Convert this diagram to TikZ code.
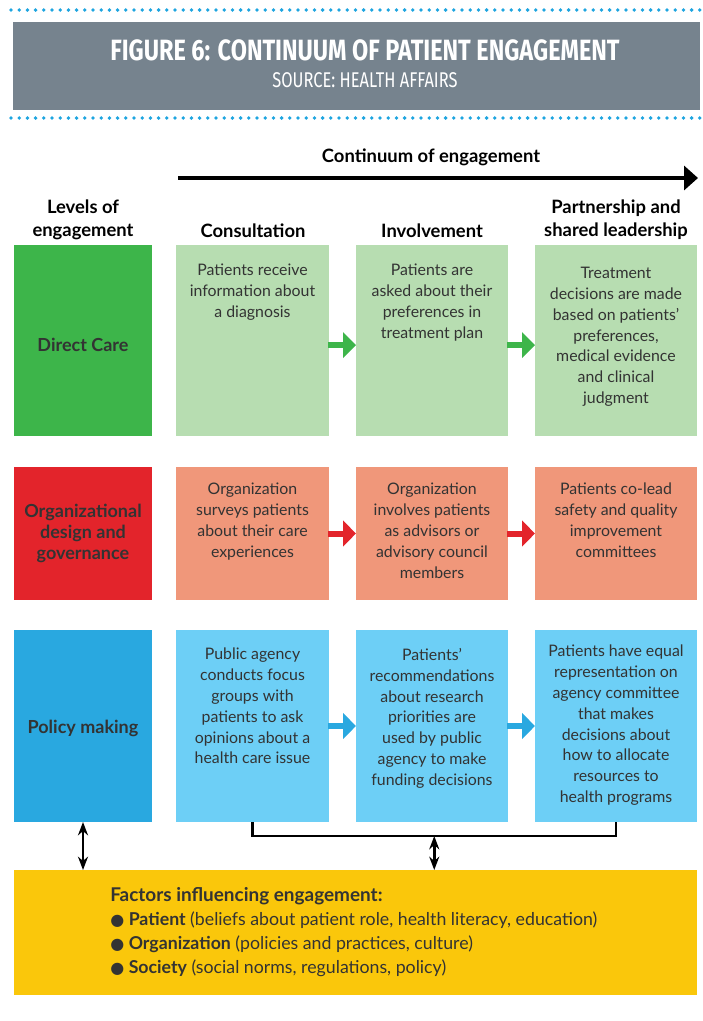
\documentclass[tikz,border=0pt]{standalone}
\usepackage{fontspec}
\setmainfont{Lato}
\newfontfamily\headfont[FakeStretch=0.8]{Fira Sans}
\newfontfamily\srcfont[FakeStretch=0.77]{Fira Sans}
\newfontfamily\djv{DejaVu Sans}
\usetikzlibrary{arrows.meta,calc}
\definecolor{dgreen}{HTML}{3DB54A}
\definecolor{lgreen}{HTML}{B7DDB1}
\definecolor{dred}{HTML}{E3242B}
\definecolor{lred}{HTML}{F0977A}
\definecolor{dblue}{HTML}{29A8E0}
\definecolor{lblue}{HTML}{6DCFF6}
\definecolor{yel}{HTML}{FAC70B}
\definecolor{hgray}{HTML}{76838E}
\definecolor{dots}{HTML}{1EA5E0}
\definecolor{ink}{HTML}{333333}
\newcommand\bul{{\djv\fontsize{12}{12}\selectfont ●}}
\tikzset{
  box/.style={anchor=north west, inner sep=0, outer sep=0},
  bodytxt/.style={anchor=north, align=center, text=ink, inner sep=0,
     font=\fontsize{11.9}{15.6}\selectfont},
  hdr/.style={align=center, text=black, inner sep=0,
     font=\bfseries\fontsize{13.8}{17.25}\selectfont},
  levtxt/.style={align=center, text=ink, inner sep=0,
     font=\bfseries\fontsize{13.5}{15.75}\selectfont},
  flow/.style={line width=4.5pt, -{Triangle[length=9.75pt,width=19pt]}, shorten <=-0.5pt},
  dbl/.style={line width=1.9pt, {Stealth[length=10pt,width=7.5pt]}-{Stealth[length=10pt,width=7.5pt]}},
}
\begin{document}
\begin{tikzpicture}[x=0.75pt,y=-0.75pt]
\useasboundingbox (0,0) rectangle (703,1021);
% dotted rules
\foreach \i in {0,...,84} {
  \fill[dots] ({11+\i*8.2},10) circle (1.9);
  \fill[dots] ({11+\i*8.2},118) circle (1.9);
}
% header
\node[box, fill=hgray, minimum width=515.25pt, minimum height=66pt] (hd) at (13,22) {};
\node[text=white, inner sep=0, font=\headfont\bfseries\fontsize{22}{26}\selectfont] (title) at (365,50) {FIGURE 6: CONTINUUM OF PATIENT ENGAGEMENT};
\node[text=white, inner sep=0, font=\srcfont\fontsize{16}{19}\selectfont] (src) at (365,80) {SOURCE: HEALTH AFFAIRS};
% continuum arrow
\coordinate (ca) at (178,178);
\coordinate (cb) at (698,178);
\draw[line width=3pt, -{Triangle[length=10.5pt,width=18pt]}] (ca) -- (cb);
\node[hdr] (ctitle) at (431,157) {Continuum of engagement};
% column headers
\node[hdr] (hlev) at (83,220) {Levels of\\engagement};
\node[hdr] (hcon) at (253,231) {Consultation};
\node[hdr] (hinv) at (432,231) {Involvement};
\node[hdr] (hpar) at (616,220) {Partnership and\\shared leadership};
% row 1
\node[box, fill=dgreen, minimum width=103.5pt, minimum height=143.25pt] (dc) at (14,245) {};
\node[levtxt] (dct) at ([yshift=-3pt]dc) {Direct Care};
\node[box, fill=lgreen, minimum width=114.75pt, minimum height=143.25pt] (c1) at (176,245) {};
\node[box, fill=lgreen, minimum width=114pt, minimum height=143.25pt] (i1) at (356,245) {};
\node[box, fill=lgreen, minimum width=121.5pt, minimum height=143.25pt] (p1) at (535,245) {};
\node[bodytxt] (c1t) at (c1.north |- 0,264) {Patients receive\\information about\\a diagnosis};
\node[bodytxt] (i1t) at (i1.north |- 0,264) {Patients are\\asked about their\\preferences in\\treatment plan};
\node[bodytxt] (p1t) at (p1.north |- 0,267) {Treatment\\decisions are made\\based on patients'\\preferences,\\medical evidence\\and clinical\\judgment};
\draw[flow, dgreen] ([yshift=-3.5pt]c1.east) -- ([yshift=-3.5pt]i1.west);
\draw[flow, dgreen] ([yshift=-3.5pt]i1.east) -- ([yshift=-3.5pt]p1.west);
% row 2
\node[box, fill=dred, minimum width=103.5pt, minimum height=99.75pt] (og) at (14,467) {};
\node[levtxt] (ogt) at (og) {Organizational\\design and\\governance};
\node[box, fill=lred, minimum width=114.75pt, minimum height=99.75pt] (c2) at (176,467) {};
\node[box, fill=lred, minimum width=114pt, minimum height=99.75pt] (i2) at (356,467) {};
\node[box, fill=lred, minimum width=121.5pt, minimum height=99.75pt] (p2) at (535,467) {};
\node[bodytxt] (c2t) at (c2.north |- 0,483) {Organization\\surveys patients\\about their care\\experiences};
\node[bodytxt] (i2t) at (i2.north |- 0,483) {Organization\\involves patients\\as advisors or\\advisory council\\members};
\node[bodytxt] (p2t) at (p2.north |- 0,483) {Patients co-lead\\safety and quality\\improvement\\committees};
\draw[flow, dred] (c2.east) -- (i2.west);
\draw[flow, dred] (i2.east) -- (p2.west);
% row 3
\node[box, fill=dblue, minimum width=103.5pt, minimum height=144pt] (pm) at (14,630) {};
\node[levtxt] (pmt) at ([yshift=-2pt]pm) {Policy making};
\node[box, fill=lblue, minimum width=114.75pt, minimum height=144pt] (c3) at (176,630) {};
\node[box, fill=lblue, minimum width=114pt, minimum height=144pt] (i3) at (356,630) {};
\node[box, fill=lblue, minimum width=121.5pt, minimum height=144pt] (p3) at (535,630) {};
\node[bodytxt] (c3t) at (c3.north |- 0,648) {Public agency\\conducts focus\\groups with\\patients to ask\\opinions about a\\health care issue};
\node[bodytxt] (i3t) at (i3.north |- 0,648) {Patients'\\recommendations\\about research\\priorities are\\used by public\\agency to make\\funding decisions};
\node[bodytxt] (p3t) at (p3.north |- 0,645) {Patients have equal\\representation on\\agency committee\\that makes\\decisions about\\how to allocate\\resources to\\health programs};
\draw[flow, dblue] (c3.east) -- (i3.west);
\draw[flow, dblue] (i3.east) -- (p3.west);
% factors box
\node[box, fill=yel, minimum width=512.25pt, minimum height=93.75pt] (fac) at (14,870) {};
\node[anchor=north west, align=left, text=ink, inner sep=0,
      font=\fontsize{13.3}{18}\selectfont] (fact) at (110,887)
 {{\fontsize{14.2}{18}\selectfont\textbf{Factors influencing engagement:}}\\
  \bul\ \textbf{Patient} (beliefs about patient role, health literacy, education)\\
  \bul\ \textbf{Organization} (policies and practices, culture)\\
  \bul\ \textbf{Society} (social norms, regulations, policy)};
% bracket and double arrows
\coordinate (bl) at ([yshift=-10.5pt]c3.south);
\coordinate (br) at ([yshift=-10.5pt]p3.south);
\coordinate (bm) at ($(bl)!0.5!(br)$);
\draw[line width=2pt, line join=miter] (c3.south) -- (bl) -- (br) -- (p3.south);
\draw[dbl] (bm) -- (bm |- fac.north);
\draw[dbl] (pm.south) -- (pm.south |- fac.north);
\end{tikzpicture}
\end{document}
